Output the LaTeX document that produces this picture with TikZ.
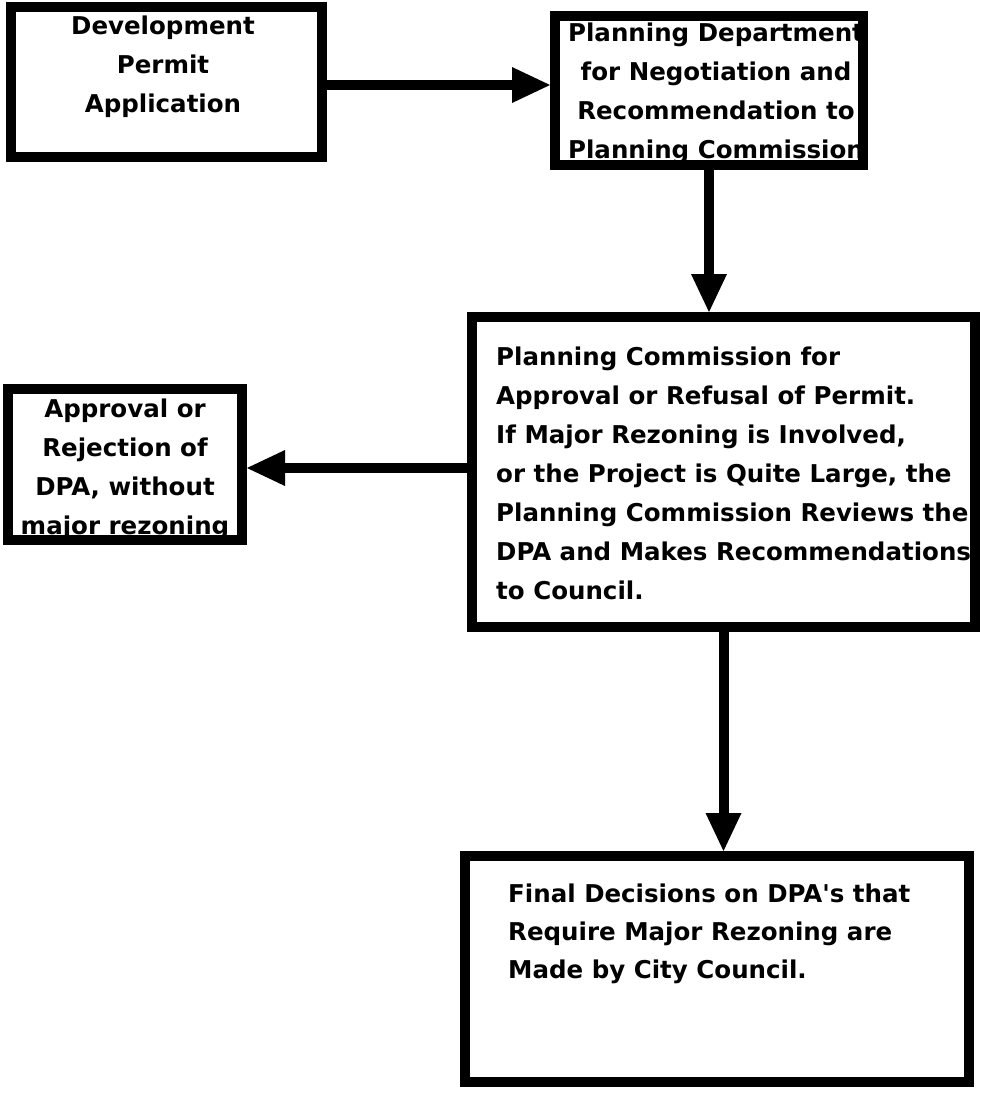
\documentclass[tikz,border=0pt]{standalone}
\usepackage{fontspec}
\setmainfont{DejaVu Sans}
\usetikzlibrary{arrows.meta}
% stacked lines of box text; [t] puts the baseline on the first line
\newcommand\boxlines[2]{\begin{tabular}[t]{@{}#1@{}}#2\end{tabular}}
\begin{document}
\begin{tikzpicture}[x=1pt,y=-1pt,
  flowbox/.style={draw=black, line width=10pt, rectangle, inner sep=0pt},
  boxtext/.style={inner sep=0pt, text=black, font=\bfseries\fontsize{24.5}{39}\selectfont},
  flow/.style={draw=black, line width=10pt, -{Triangle[length=38pt,width=36pt,line width=0pt]}}]
\fill[white] (0,0) rectangle (981,1093);
\useasboundingbox (0,0) rectangle (981,1093);

% box texts
\node[boxtext, anchor=base] (tA) at (163,34)
  {\boxlines{c}{Development\\Permit\\Application}};
\node[boxtext, anchor=base] (tB) at (716,41)
  {\boxlines{c}{Planning Department\\for Negotiation and\\Recommendation to\\Planning Commission}};
\node[boxtext, anchor=base west] (tC) at (496,365)
  {\boxlines{l}{Planning Commission for\\Approval or Refusal of Permit.\\If Major Rezoning is Involved,\\or the Project is Quite Large, the\\Planning Commission Reviews the\\DPA and Makes Recommendations\\to Council.}};
\node[boxtext, anchor=base] (tD) at (125,417)
  {\boxlines{c}{Approval or\\Rejection of\\DPA, without\\major rezoning}};
\node[boxtext, anchor=base west, font=\bfseries\fontsize{24.5}{38}\selectfont] (tE) at (508,902)
  {\boxlines{l}{Final Decisions on DPA\textquotesingle s that\\Require Major Rezoning are\\Made by City Council.}};

% frames
\node[flowbox, minimum width=311pt, minimum height=150pt] (A) at (166.5,82) {};
\node[flowbox, minimum width=308pt, minimum height=149pt] (B) at (709,90.5) {};
\node[flowbox, minimum width=503pt, minimum height=310pt] (C) at (723.5,472) {};
\node[flowbox, minimum width=234pt, minimum height=151pt] (D) at (125,464.5) {};
\node[flowbox, minimum width=504pt, minimum height=226pt] (E) at (717,969) {};

% connectors
\draw[flow] ([yshift=-3pt]A.east) -- ([yshift=-3pt]A.east -| B.west);
\draw[flow] (B.south) -- (B.south |- C.north);
\draw[flow] ([yshift=4pt]C.west) -- ([yshift=4pt]C.west -| D.east);
\draw[flow] (C.south) -- (C.south |- E.north);
\end{tikzpicture}
\end{document}
